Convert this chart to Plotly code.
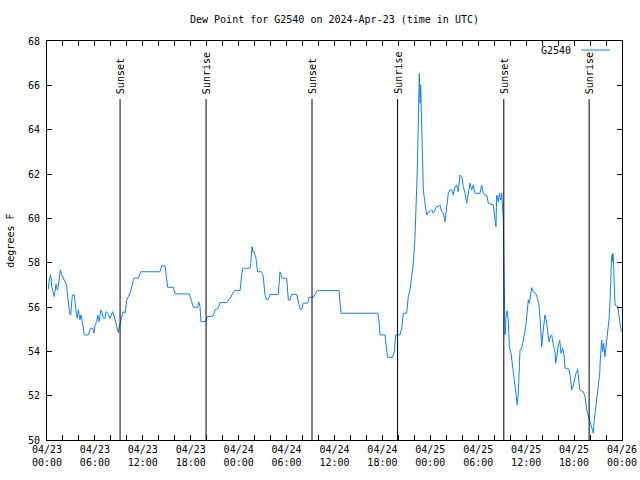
import plotly.graph_objects as go
import pandas as pd

# ---- data ----
hours_since_start = [
    0.16, 0.29, 0.46, 0.59, 0.75, 0.91, 1.13, 1.29, 1.42, 1.67, 1.84, 2.04, 2.25, 2.47, 2.54, 2.67,
    2.84, 2.97, 3.09, 3.17, 3.42, 3.51, 3.67, 3.79, 3.92, 4.13, 4.26, 4.42, 4.67, 5.17, 5.47, 5.72,
    5.89, 6.01, 6.22, 6.35, 6.51, 6.76, 6.92, 7.05, 7.26, 7.39, 7.60, 7.89, 8.10, 8.23, 8.43, 8.60,
    8.77, 8.93, 9.05, 9.18, 9.35, 9.52, 9.77, 9.98, 10.39, 10.81, 10.89, 11.43, 11.73, 14.15, 14.36,
    14.78, 14.99, 15.11, 15.82, 16.03, 17.82, 18.12, 18.32, 18.87, 19.00, 19.16, 19.28, 19.91, 20.07,
    20.82, 21.04, 21.45, 21.66, 22.50, 22.92, 23.45, 24.17, 24.38, 24.51, 25.42, 25.51, 25.67, 25.76,
    25.92, 26.17, 26.26, 26.38, 26.88, 27.08, 27.30, 27.51, 27.71, 27.92, 28.96, 29.18, 29.30, 29.46,
    30.01, 30.09, 30.22, 30.43, 30.64, 31.27, 31.47, 31.68, 31.89, 32.09, 32.64, 32.81, 33.35, 33.77,
    33.85, 36.56, 36.82, 41.41, 41.57, 41.70, 42.33, 42.54, 42.66, 43.29, 43.49, 43.66, 44.20, 44.42,
    44.62, 45.04, 45.24, 45.45, 45.67, 45.87, 46.08, 46.21, 46.37, 46.62, 46.71, 46.79, 46.92, 47.12,
    47.33, 47.55, 47.75, 47.96, 48.17, 48.37, 48.58, 48.80, 49.00, 49.21, 49.42, 49.62, 49.84, 50.05,
    50.25, 50.46, 50.68, 50.88, 51.09, 51.30, 51.50, 51.72, 51.93, 52.13, 52.34, 52.55, 52.75, 52.97,
    53.18, 53.38, 53.59, 54.22, 54.43, 54.63, 54.85, 55.06, 55.26, 55.89, 56.10, 56.22, 56.31, 56.51,
    56.64, 56.81, 56.94, 57.06, 57.14, 57.24, 57.30, 57.35, 57.41, 57.47, 57.60, 57.76, 57.89, 58.10,
    58.26, 58.39, 58.51, 58.69, 58.82, 58.89, 59.02, 59.10, 59.23, 59.44, 59.64, 59.77, 59.94, 60.07,
    60.19, 60.27, 60.39, 60.52, 60.69, 60.89, 61.19, 61.44, 61.61, 61.73, 61.86, 61.95, 62.07, 62.24,
    62.36, 62.57, 62.70, 62.86, 63.02, 63.20, 63.40, 63.61, 63.70, 63.86, 64.03, 64.20, 64.36, 64.58,
    64.74, 64.86, 65.36, 65.53, 65.70, 65.87, 66.03, 66.24, 66.45, 66.53, 66.71, 67.16, 67.37, 67.58,
    67.78, 67.99, 68.21, 68.41, 68.53, 68.71, 68.87, 69.03, 69.21, 69.28, 69.37, 69.46, 69.58, 69.71,
    69.87, 70.04, 70.21, 70.37, 70.50, 70.62, 70.71, 70.79, 70.87, 70.96, 71.04, 71.12, 71.46, 71.63,
    71.75, 71.88, 71.98,
]
dew_point_f = [
    56.80, 57.22, 57.45, 56.92, 56.69, 56.47, 57.04, 56.77, 56.92, 57.67, 57.45, 57.30, 57.22, 56.99, 56.62, 56.17,
    55.72, 55.64, 56.32, 56.54, 56.54, 56.17, 55.72, 55.49, 55.87, 55.42, 55.64, 55.34, 54.74, 54.74, 55.04, 55.04,
    54.82, 55.19, 55.34, 55.64, 55.34, 55.87, 55.72, 55.49, 55.49, 55.79, 55.72, 55.49, 55.72, 55.79, 55.56, 55.27,
    54.97, 54.84, 55.11, 55.34, 55.49, 55.79, 55.72, 56.32, 56.62, 57.25, 57.30, 57.30, 57.59, 57.59, 57.86,
    57.86, 57.14, 56.89, 56.89, 56.59, 56.59, 56.24, 55.99, 55.99, 56.24, 56.02, 55.34, 55.34, 55.56,
    55.60, 55.87, 55.94, 56.20, 56.20, 56.39, 56.74, 56.74, 57.45, 57.75, 57.75, 57.97, 58.72, 58.50,
    58.50, 58.20, 57.90, 57.59, 57.59, 57.37, 56.54, 56.32, 56.35, 56.57, 56.57, 57.59, 57.45, 57.30,
    57.30, 56.99, 56.32, 56.32, 56.57, 56.57, 56.17, 55.90, 55.90, 56.17, 56.17, 56.44, 56.44, 56.72,
    56.74, 56.74, 55.72, 55.72, 55.42, 54.74, 54.74, 53.99, 53.73, 53.73, 53.99, 54.74, 54.74, 55.04,
    55.72, 55.72, 56.47, 56.77, 57.37, 57.97, 59.17, 60.23, 62.18, 66.54, 65.19, 66.02, 63.84, 61.28,
    60.68, 60.15, 60.30, 60.30, 60.38, 60.23, 60.38, 60.53, 60.53, 60.60, 60.30, 60.23, 59.85, 60.53,
    61.13, 61.28, 61.28, 61.05, 61.43, 61.50, 61.20, 61.96, 61.88, 61.43, 61.13, 60.68, 61.20, 61.58,
    61.28, 61.50, 61.13, 61.13, 61.50, 61.13, 61.05, 61.05, 60.68, 60.60, 59.92, 59.62, 61.05, 60.75,
    61.13, 60.83, 61.13, 60.38, 59.92, 57.37, 55.87, 54.74, 55.04, 55.54, 55.83, 55.42, 54.21, 53.91,
    53.53, 53.08, 52.71, 52.26, 51.88, 51.58, 52.18, 53.39, 54.06, 54.14, 54.44, 54.74, 55.11, 55.64,
    56.09, 56.32, 56.17, 56.47, 56.87, 56.69, 56.62, 56.35, 56.09, 55.56, 54.66, 54.21, 54.74, 55.19,
    55.64, 55.27, 54.82, 54.44, 54.66, 54.74, 54.29, 53.99, 53.46, 53.91, 54.29, 54.51, 53.91, 54.14,
    53.84, 53.24, 53.19, 52.86, 52.26, 52.44, 52.71, 53.01, 53.19, 52.86, 52.26, 52.18, 51.96, 51.36,
    51.13, 50.83, 50.53, 50.31, 50.91, 51.51, 52.18, 52.48, 53.01, 53.61, 54.06, 54.51, 53.99, 54.36,
    53.76, 54.36, 54.82, 55.42, 56.24, 57.59, 58.35, 58.05, 58.42, 57.82, 56.77, 56.09, 56.02, 55.56,
    55.11, 54.96, 54.90,
]

event_times = ["2024-04-23 09:09", "2024-04-23 19:55", "2024-04-24 09:11",
               "2024-04-24 19:54", "2024-04-25 09:12", "2024-04-25 19:53"]
event_labels = ["Sunset", "Sunrise", "Sunset", "Sunrise", "Sunset", "Sunrise"]

tick_times = ["2024-04-23 00:00", "2024-04-23 06:00", "2024-04-23 12:00", "2024-04-23 18:00",
              "2024-04-24 00:00", "2024-04-24 06:00", "2024-04-24 12:00", "2024-04-24 18:00",
              "2024-04-25 00:00", "2024-04-25 06:00", "2024-04-25 12:00", "2024-04-25 18:00",
              "2024-04-26 00:00"]
tick_labels = ["04/23<br>00:00", "04/23<br>06:00", "04/23<br>12:00", "04/23<br>18:00",
               "04/24<br>00:00", "04/24<br>06:00", "04/24<br>12:00", "04/24<br>18:00",
               "04/25<br>00:00", "04/25<br>06:00", "04/25<br>12:00", "04/25<br>18:00",
               "04/26<br>00:00"]

series_name = "G2540"
title_text = "Dew Point for G2540 on 2024-Apr-23 (time in UTC)"
y_label = "degrees F"

# ---- figure ----
FONT = "DejaVu Sans Mono"
LINE_COLOR = "#1080ff"
start = pd.Timestamp("2024-04-23 00:00")
times = start + pd.to_timedelta(hours_since_start, unit="h")

fig = go.Figure()
fig.add_trace(go.Scatter(x=times, y=dew_point_f, mode="lines", name=series_name,
                         line=dict(color=LINE_COLOR, width=1), showlegend=False,
                         hoverinfo="skip"))

EVENT_TOP = 65.38
for t, lab in zip(event_times, event_labels):
    fig.add_shape(type="line", xref="x", yref="y", x0=t, x1=t, y0=50, y1=EVENT_TOP,
                  line=dict(color="black", width=1))
    fig.add_annotation(x=t, y=EVENT_TOP, xref="x", yref="y", text=lab, textangle=-90,
                       showarrow=False, xanchor="center", yanchor="bottom", yshift=3,
                       font=dict(family=FONT, size=10, color="black"))

# legend (gnuplot style: text then sample)
fig.add_annotation(x=0.9148, y=0.9774, xref="paper", yref="paper", text=series_name,
                   showarrow=False, xanchor="right", yanchor="middle",
                   font=dict(family=FONT, size=10, color="black"))
fig.add_shape(type="line", xref="paper", yref="paper", x0=0.9287, x1=0.9791,
              y0=0.9774, y1=0.9774, line=dict(color=LINE_COLOR, width=1))

# y-axis title
fig.add_annotation(x=-0.064, y=0.5, xref="paper", yref="paper", text=y_label,
                   textangle=-90, showarrow=False, xanchor="center", yanchor="middle",
                   font=dict(family=FONT, size=10, color="black"))

fig.update_layout(
    width=640, height=480,
    margin=dict(l=47, r=18, t=41, b=40, autoexpand=False),
    paper_bgcolor="white", plot_bgcolor="white",
    font=dict(family=FONT, size=10, color="black"),
    title=dict(text=title_text, x=0.5, xref="paper", y=1 - 19 / 480, yref="container",
               xanchor="center", yanchor="middle",
               font=dict(family=FONT, size=10, color="black")),
    showlegend=False,
)
fig.update_xaxes(
    range=["2024-04-23 00:00", "2024-04-26 00:00"],
    tickmode="array", tickvals=tick_times, ticktext=tick_labels,
    ticks="inside", ticklen=5, tickwidth=1, tickcolor="black",
    showline=True, linecolor="black", linewidth=1, mirror="allticks",
    showgrid=False, zeroline=False, automargin=False,
    minor=dict(dtick=2 * 3600 * 1000, ticks="inside", ticklen=5, tickcolor="black",
               showgrid=False),
)
fig.update_yaxes(
    range=[50, 68], dtick=2, tick0=50,
    ticks="inside", ticklen=5, tickwidth=1, tickcolor="black",
    showline=True, linecolor="black", linewidth=1, mirror="allticks",
    showgrid=False, zeroline=False, ticklabelstandoff=4, automargin=False,
)

fig.write_html("out.html")
